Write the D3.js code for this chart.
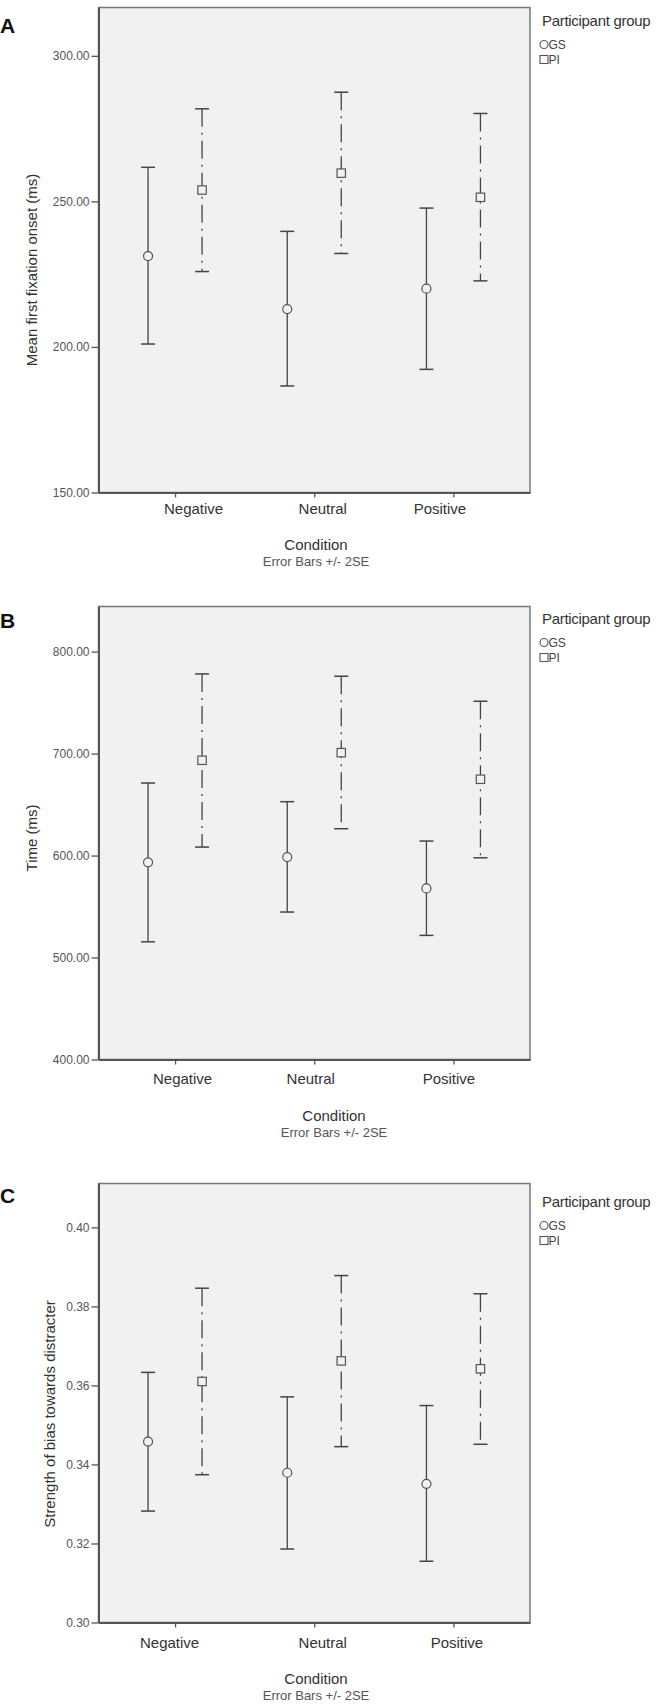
<!DOCTYPE html>
<html>

<head>
    <meta charset='utf-8'>
    <title>Error bars by condition</title>
    <script src="https://cdnjs.cloudflare.com/ajax/libs/d3/7.8.5/d3.min.js"></script>
    <style>
        body { margin: 0; background: #fff; }
        text { font-family: "Liberation Sans", Arial, sans-serif; }
    </style>
</head>

<body>
    <script>
        const conditions = ["Negative", "Neutral", "Positive"];
        const groups = ["GS", "PI"];

        // A: first fixation onset
        const fixTicks = [150, 200, 250, 300];
        const fixMean = { GS: [231.2, 213.0, 220.0], PI: [253.9, 259.7, 251.4] };
        const fixLower = { GS: [201.0, 186.6, 192.3], PI: [225.9, 232.1, 222.7] };
        const fixUpper = { GS: [261.7, 239.7, 247.7], PI: [281.8, 287.5, 280.2] };

        // B: time
        const timeTicks = [400, 500, 600, 700, 800];
        const timeMean = { GS: [593.3, 598.5, 567.8], PI: [693.4, 700.9, 674.8] };
        const timeLower = { GS: [515.4, 544.6, 521.7], PI: [608.3, 626.3, 597.8] };
        const timeUpper = { GS: [671.1, 652.8, 614.2], PI: [778.1, 775.8, 751.3] };

        // C: bias strength
        const biasTicks = [0.30, 0.32, 0.34, 0.36, 0.38, 0.40];
        const biasMean = { GS: [0.3458, 0.3379, 0.3351], PI: [0.3610, 0.3662, 0.3642] };
        const biasLower = { GS: [0.3282, 0.3186, 0.3155], PI: [0.3374, 0.3445, 0.3451] };
        const biasUpper = { GS: [0.3633, 0.3571, 0.3549], PI: [0.3846, 0.3878, 0.3832] };

        const w = 665;
        const h = 1708;
        const left = 98.5;
        const right = 530;

        const panels = [
            { letter: "A", letterY: 33, ytitle: "Mean first fixation onset (ms)", titleX: 32, titleY: 270,
              top: 7.5, bottom: 492.5, domain: [150, 316.6], ticks: fixTicks,
              mean: fixMean, lower: fixLower, upper: fixUpper,
              labelDx: [18, 8, -14], labelDy: 21, condX: 316, condDy: 57, errDy: 73, legendDy: 18 },
            { letter: "B", letterY: 628, ytitle: "Time (ms)", titleX: 32, titleY: 838,
              top: 606.5, bottom: 1059.5, domain: [400, 844.2], ticks: timeTicks,
              mean: timeMean, lower: timeLower, upper: timeUpper,
              labelDx: [7, -4, -5], labelDy: 24, condX: 334, condDy: 61, errDy: 77, legendDy: 17 },
            { letter: "C", letterY: 1203, ytitle: "Strength of bias towards distracter", titleX: 50, titleY: 1414,
              top: 1183.5, bottom: 1622.5, domain: [0.30, 0.4111], ticks: biasTicks,
              mean: biasMean, lower: biasLower, upper: biasUpper,
              labelDx: [-6, 8, 3], labelDy: 25, condX: 316, condDy: 61, errDy: 77, legendDy: 23 }
        ];

        const svg = d3.select("body")
            .append("svg")
            .attr("width", w)
            .attr("height", h);

        const xScale = d3.scalePoint()
            .domain(conditions)
            .range([left, right])
            .padding(0.55);
        const offset = d3.scalePoint()
            .domain(groups)
            .range([-27, 27]);

        panels.forEach(p => {
            const g = svg.append("g");
            const yScale = d3.scaleLinear()
                .domain(p.domain)
                .range([p.bottom, p.top]);

            g.append("rect")
                .attr("x", left)
                .attr("y", p.top)
                .attr("width", right - left)
                .attr("height", p.bottom - p.top)
                .attr("fill", "#f1f1f1")
                .attr("stroke", "#777")
                .attr("stroke-width", 1.5);

            // y axis
            const yAxis = d3.axisLeft(yScale)
                .tickValues(p.ticks)
                .tickFormat(d3.format(".2f"))
                .tickSize(7)
                .tickSizeOuter(0)
                .tickPadding(2);
            const ya = g.append("g")
                .attr("transform", "translate(" + left + ",0)")
                .call(yAxis);
            ya.select(".domain").attr("stroke", "#555").attr("stroke-width", 2);
            ya.selectAll(".tick line").attr("stroke", "#555").attr("stroke-width", 1.3);
            ya.selectAll(".tick text")
                .attr("font-size", 12)
                .attr("font-family", "Liberation Sans, Arial, sans-serif")
                .attr("fill", "#555");

            // x axis
            const xAxis = d3.axisBottom(xScale)
                .tickSize(5)
                .tickSizeOuter(0);
            const xa = g.append("g")
                .attr("transform", "translate(0," + p.bottom + ")")
                .call(xAxis);
            xa.select(".domain").attr("stroke", "#555").attr("stroke-width", 2);
            xa.selectAll(".tick line").attr("stroke", "#555").attr("stroke-width", 1.3);
            xa.selectAll(".tick text")
                .attr("font-size", 15)
                .attr("font-family", "Liberation Sans, Arial, sans-serif")
                .attr("fill", "#333")
                .attr("dy", null)
                .attr("y", p.labelDy)
                .attr("x", (d, i) => p.labelDx[i]);

            // titles
            g.append("text")
                .attr("x", p.condX)
                .attr("y", p.bottom + p.condDy)
                .attr("text-anchor", "middle")
                .attr("font-size", 15)
                .attr("fill", "#333")
                .text("Condition");
            g.append("text")
                .attr("x", p.condX)
                .attr("y", p.bottom + p.errDy)
                .attr("text-anchor", "middle")
                .attr("font-size", 13)
                .attr("fill", "#555")
                .text("Error Bars +/- 2SE");
            g.append("text")
                .attr("transform", "translate(" + p.titleX + "," + p.titleY + ") rotate(-90)")
                .attr("dy", "0.35em")
                .attr("text-anchor", "middle")
                .attr("font-size", 15)
                .attr("fill", "#333")
                .text(p.ytitle);
            g.append("text")
                .attr("x", 0)
                .attr("y", p.letterY)
                .attr("font-size", 21)
                .attr("font-weight", "bold")
                .attr("fill", "#111")
                .text(p.letter);

            // error bars
            groups.forEach(grp => {
                const dash = grp === "PI" ? "18,6,2,6" : null;
                const bars = g.append("g");
                conditions.forEach((c, i) => {
                    const cx = xScale(c) + offset(grp);
                    bars.append("line")
                        .attr("x1", cx).attr("x2", cx)
                        .attr("y1", yScale(p.upper[grp][i]))
                        .attr("y2", yScale(p.lower[grp][i]))
                        .attr("stroke", "#444")
                        .attr("stroke-width", 1.3)
                        .attr("stroke-dasharray", dash);
                    [p.upper[grp][i], p.lower[grp][i]].forEach(v => {
                        bars.append("line")
                            .attr("x1", cx - 7).attr("x2", cx + 7)
                            .attr("y1", yScale(v)).attr("y2", yScale(v))
                            .attr("stroke", "#444")
                            .attr("stroke-width", 1.5);
                    });
                    if (grp === "GS") {
                        bars.append("circle")
                            .attr("cx", cx)
                            .attr("cy", yScale(p.mean[grp][i]))
                            .attr("r", 4.5)
                            .attr("fill", "#f1f1f1")
                            .attr("stroke", "#555")
                            .attr("stroke-width", 1.2);
                    } else {
                        bars.append("rect")
                            .attr("x", cx - 4.2)
                            .attr("y", yScale(p.mean[grp][i]) - 4.2)
                            .attr("width", 8.4)
                            .attr("height", 8.4)
                            .attr("fill", "#f1f1f1")
                            .attr("stroke", "#555")
                            .attr("stroke-width", 1.2);
                    }
                });
            });

            // legend
            const lg = g.append("g")
                .attr("transform", "translate(542," + (p.top + p.legendDy) + ")");
            lg.append("text")
                .attr("x", 0)
                .attr("y", 0)
                .attr("font-size", 15)
                .attr("letter-spacing", "-0.3")
                .attr("fill", "#333")
                .text("Participant group");
            lg.append("circle")
                .attr("cx", 2)
                .attr("cy", 19)
                .attr("r", 4)
                .attr("fill", "none")
                .attr("stroke", "#555")
                .attr("stroke-width", 1.1);
            lg.append("text")
                .attr("x", 6.5)
                .attr("y", 23.5)
                .attr("font-size", 12)
                .attr("fill", "#444")
                .text("GS");
            lg.append("rect")
                .attr("x", -2)
                .attr("y", 30)
                .attr("width", 8)
                .attr("height", 8)
                .attr("fill", "none")
                .attr("stroke", "#555")
                .attr("stroke-width", 1.1);
            lg.append("text")
                .attr("x", 6.5)
                .attr("y", 38.5)
                .attr("font-size", 12)
                .attr("fill", "#444")
                .text("PI");
        });
    </script>
</body>

</html>
